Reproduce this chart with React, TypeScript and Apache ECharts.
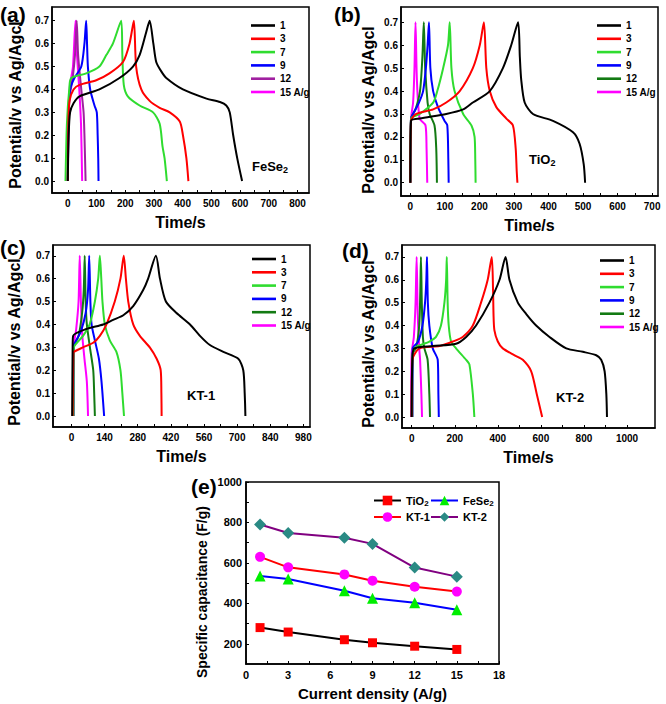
import React, { useEffect, useRef } from "react";
import * as echarts from "echarts";

const FONT = '"Liberation Sans", Arial, sans-serif';

// ---------- GCD data (time s, potential V) ----------
// (a) FeSe2
const feSe2_1 = [[0,0],[3,0.2],[8,0.3],[20,0.34],[41,0.37],[110,0.4],[180,0.45],[227,0.5],[250,0.55],[273,0.65],[285,0.7],[298,0.6],[308,0.52],[325,0.48],[343,0.45],[401,0.4],[483,0.36],[530,0.345],[552,0.33],[564,0.3],[576,0.2],[590,0.1],[607,0]];
const feSe2_3 = [[0,0],[2,0.25],[6,0.35],[20,0.4],[41,0.42],[99,0.44],[145,0.47],[192,0.52],[215,0.6],[230,0.7],[238,0.5],[256,0.4],[285,0.35],[320,0.32],[355,0.3],[390,0.26],[401,0.2],[413,0.1],[420,0]];
const feSe2_7 = [[-8,0],[-3,0.25],[5,0.4],[12,0.45],[64,0.47],[110,0.5],[134,0.55],[157,0.6],[186,0.7],[190,0.55],[195,0.42],[209,0.37],[250,0.33],[297,0.3],[320,0.25],[330,0.15],[337,0.1],[345,0]];
const feSe2_9 = [[0,0],[3,0.3],[8,0.4],[23,0.45],[47,0.5],[58,0.6],[64,0.7],[67,0.6],[70,0.5],[78,0.4],[93,0.33],[101,0.3],[104,0.2],[106,0.1],[107,0]];
const feSe2_12 = [[0,0],[3,0.3],[8,0.38],[17,0.45],[25,0.55],[31,0.7],[36,0.55],[47,0.4],[55,0.3],[58,0.2],[62,0]];
const feSe2_15 = [[0,0],[2,0.3],[8,0.42],[18,0.5],[27,0.7],[32,0.55],[40,0.4],[46,0.25],[50,0]];

// (b) TiO2
const tiO2_1 = [[0,0],[2,0.27],[27,0.28],[104,0.3],[153,0.32],[181,0.35],[230,0.4],[268,0.5],[292,0.6],[312,0.7],[317,0.55],[321,0.45],[331,0.35],[355,0.3],[413,0.27],[471,0.22],[490,0.17],[502,0.08],[506,0]];
const tiO2_3 = [[0,0],[2,0.27],[17,0.3],[66,0.32],[104,0.35],[143,0.4],[181,0.5],[201,0.6],[213,0.7],[220,0.5],[230,0.4],[249,0.33],[278,0.28],[297,0.25],[305,0.15],[308,0.05],[310,0]];
const tiO2_7 = [[0,0],[2,0.28],[27,0.3],[66,0.35],[78,0.4],[95,0.5],[109,0.6],[114,0.7],[119,0.5],[128,0.4],[153,0.3],[177,0.25],[186,0.2],[188,0.1],[189,0]];
const tiO2_9 = [[0,0],[2,0.28],[8,0.3],[25,0.35],[37,0.4],[45,0.5],[50,0.6],[54,0.7],[58,0.5],[66,0.4],[80,0.33],[99,0.27],[107,0.25],[110,0.1],[111,0]];
const tiO2_12 = [[0,0],[2,0.28],[15,0.32],[28,0.4],[35,0.55],[39,0.7],[43,0.5],[50,0.35],[56,0.3],[70,0.25],[75,0.15],[77,0]];
const tiO2_15 = [[0,0],[2,0.28],[8,0.35],[12,0.5],[15,0.7],[19,0.45],[27,0.28],[44,0.25],[47,0.15],[49,0]];

// (c) KT-1
const kt1_1 = [[3,0],[5,0.3],[7,0.35],[63,0.38],[134,0.4],[176,0.42],[219,0.44],[261,0.48],[303,0.55],[324,0.6],[357,0.7],[374,0.6],[399,0.5],[444,0.45],[501,0.4],[543,0.35],[585,0.31],[642,0.28],[705,0.25],[726,0.2],[732,0.1],[735,0]];
const kt1_3 = [[5,0],[8,0.27],[10,0.28],[49,0.3],[92,0.32],[120,0.35],[148,0.4],[183,0.5],[207,0.6],[221,0.7],[230,0.6],[240,0.5],[261,0.4],[289,0.35],[331,0.3],[360,0.25],[377,0.2],[380,0.1],[381,0]];
const kt1_7 = [[8,0],[9,0.28],[10,0.3],[49,0.35],[77,0.4],[99,0.5],[113,0.6],[120,0.7],[126,0.6],[131,0.5],[141,0.4],[162,0.33],[190,0.28],[207,0.2],[215,0.1],[222,0]];
const kt1_9 = [[8,0],[9,0.3],[20,0.33],[40,0.37],[60,0.45],[70,0.55],[75,0.7],[80,0.5],[85,0.4],[99,0.33],[116,0.25],[127,0.15],[138,0]];
const kt1_12 = [[8,0],[9,0.3],[30,0.35],[45,0.45],[52,0.55],[56,0.7],[60,0.5],[65,0.4],[78,0.3],[92,0.2],[96,0.1],[99,0]];
const kt1_15 = [[8,0],[9,0.3],[20,0.38],[30,0.5],[35,0.7],[40,0.5],[46,0.35],[55,0.25],[65,0.15],[70,0]];

// (d) KT-2
const kt2_1 = [[0,0],[3,0.25],[12,0.3],[98,0.31],[206,0.32],[253,0.35],[299,0.4],[361,0.5],[408,0.6],[436,0.7],[454,0.6],[493,0.5],[532,0.45],[578,0.4],[640,0.35],[718,0.3],[795,0.285],[857,0.27],[880,0.25],[896,0.2],[904,0.1],[907,0]];
const kt2_3 = [[0,0],[3,0.25],[36,0.3],[129,0.31],[191,0.33],[237,0.35],[284,0.4],[322,0.5],[353,0.6],[372,0.7],[378,0.55],[380,0.45],[384,0.38],[400,0.33],[423,0.3],[478,0.27],[516,0.25],[555,0.2],[581,0.1],[606,0]];
const kt2_7 = [[0,0],[3,0.25],[12,0.3],[82,0.33],[113,0.35],[136,0.4],[152,0.5],[160,0.6],[163,0.7],[167,0.5],[172,0.4],[183,0.33],[206,0.3],[253,0.25],[268,0.23],[284,0.1],[291,0]];
const kt2_9 = [[3,0],[5,0.3],[30,0.33],[50,0.4],[62,0.5],[68,0.6],[71,0.7],[75,0.5],[82,0.4],[98,0.3],[121,0.25],[124,0.1],[126,0]];
const kt2_12 = [[3,0],[5,0.28],[20,0.3],[35,0.4],[40,0.55],[43,0.7],[47,0.5],[52,0.35],[59,0.3],[74,0.25],[82,0.1],[85,0]];
const kt2_15 = [[-3,0],[0,0.28],[10,0.35],[18,0.5],[23,0.7],[28,0.45],[35,0.3],[39,0.25],[45,0.1],[48,0]];

const gcdLabels = ["1", "3", "7", "9", "12", "15 A/g"];

// x tick labels for each GCD panel
const xLabelsA = [0, 100, 200, 300, 400, 500, 600, 700, 800];
const xLabelsB = [0, 100, 200, 300, 400, 500, 600, 700];
const xLabelsC = [0, 140, 280, 420, 560, 700, 840, 980];
const xLabelsD = [0, 200, 400, 600, 800, 1000];
const yLabelsGcd = [0, 0.1, 0.2, 0.3, 0.4, 0.5, 0.6, 0.7];

// ---------- (e) specific capacitance ----------
const currentDensity = [1, 3, 7, 9, 12, 15];
const capTiO2 = [280, 258, 220, 205, 188, 172];
const capFeSe2 = [535, 520, 462, 425, 403, 368];
const capKT1 = [630, 578, 543, 512, 482, 458];
const capKT2 = [790, 748, 724, 694, 577, 532];
const xLabelsE = [0, 3, 6, 9, 12, 15, 18];
const yLabelsE = [200, 400, 600, 800, 1000];

const panelColorsA = ["#000000", "#ff0000", "#2fdc2f", "#0000ff", "#a020a0", "#ff00ff"];
const panelColorsB = ["#000000", "#ff0000", "#2fdc2f", "#0000ff", "#137a13", "#ff00ff"];

function halfSteps(vals: number[]) {
  const out: number[] = [];
  for (let i = 0; i < vals.length; i++) {
    out.push(vals[i]);
    if (i < vals.length - 1) out.push((vals[i] + vals[i + 1]) / 2);
  }
  return out;
}

export default function App() {
  const ref = useRef<HTMLDivElement>(null);
  useEffect(() => {
    if (!ref.current) return;
    const chart = echarts.init(ref.current, null, { renderer: "svg" });

    const panels = [
      { key: "a", curves: [feSe2_1, feSe2_3, feSe2_7, feSe2_9, feSe2_12, feSe2_15], colors: panelColorsA,
        grid: { left: 52, top: 7, width: 257, height: 186 }, x: [-55, 840], xl: xLabelsA, y: [-0.052, 0.76], legend: { left: 246, top: 15.5 } },
      { key: "b", curves: [tiO2_1, tiO2_3, tiO2_7, tiO2_9, tiO2_12, tiO2_15], colors: panelColorsB,
        grid: { left: 401, top: 7, width: 257, height: 189 }, x: [-27, 717], xl: xLabelsB, y: [-0.058, 0.767], legend: { left: 592, top: 15.5 } },
      { key: "c", curves: [kt1_1, kt1_3, kt1_7, kt1_9, kt1_12, kt1_15], colors: panelColorsB,
        grid: { left: 53, top: 245, width: 257, height: 182 }, x: [-78, 1008], xl: xLabelsC, y: [-0.048, 0.747], legend: { left: 247, top: 249 } },
      { key: "d", curves: [kt2_1, kt2_3, kt2_7, kt2_9, kt2_12, kt2_15], colors: panelColorsB,
        grid: { left: 402, top: 245, width: 253, height: 183 }, x: [-45, 1130], xl: xLabelsD, y: [-0.048, 0.752], legend: { left: 595, top: 250.5 } },
    ];

    const grids: any[] = [];
    const xAxes: any[] = [];
    const yAxes: any[] = [];
    const series: any[] = [];
    const legends: any[] = [];

    const axisCommon = {
      axisLine: { show: true, onZero: false, lineStyle: { color: "#000", width: 1.5 } },
      splitLine: { show: false },
    };

    panels.forEach((p, i) => {
      grids.push({ ...p.grid, show: true, borderColor: "#000", borderWidth: 1.5, backgroundColor: "transparent" });
      xAxes.push({
        type: "value", gridIndex: i, min: p.x[0], max: p.x[1], ...axisCommon,
        name: "Time/s", nameLocation: "middle", nameGap: 21,
        nameTextStyle: { fontFamily: FONT, fontWeight: "bold", fontSize: 16, color: "#000" },
        axisTick: { show: true, inside: true, length: 3, customValues: halfSteps(p.xl), lineStyle: { color: "#000", width: 1 } },
        axisLabel: { show: true, customValues: p.xl, margin: 5, fontFamily: FONT, fontWeight: "bold", fontSize: 10, color: "#000", formatter: (v: number) => String(Math.round(v)) },
      });
      yAxes.push({
        type: "value", gridIndex: i, min: p.y[0], max: p.y[1], ...axisCommon,
        axisTick: { show: true, inside: true, length: 3, customValues: yLabelsGcd, lineStyle: { color: "#000", width: 1 } },
        axisLabel: { show: true, customValues: yLabelsGcd, margin: 3, fontFamily: FONT, fontWeight: "bold", fontSize: 10, color: "#000", formatter: (v: number) => v.toFixed(1) },
      });
      const names: string[] = [];
      p.curves.forEach((c, j) => {
        const name = p.key + ":" + gcdLabels[j];
        names.push(name);
        series.push({
          type: "line", name, xAxisIndex: i, yAxisIndex: i, data: c, symbol: "none", smooth: 0.25,
          lineStyle: { width: 2, color: p.colors[j] }, itemStyle: { color: p.colors[j] }, z: 10 - j,
        });
      });
      legends.push({
        orient: "vertical", left: p.legend.left, top: p.legend.top, data: names,
        icon: "rect", itemWidth: 24, itemHeight: 2.6, itemGap: 3.3, selectedMode: false,
        formatter: (n: string) => n.split(":")[1],
        textStyle: { fontFamily: FONT, fontWeight: "bold", fontSize: 10, lineHeight: 10, color: "#000" },
      });
    });

    // panel (e)
    const ie = 4;
    grids.push({ left: 246, top: 482, width: 253, height: 182, show: true, borderColor: "#000", borderWidth: 1.5 });
    xAxes.push({
      type: "value", gridIndex: ie, min: 0, max: 18, ...axisCommon,
      name: "Current density (A/g)", nameLocation: "middle", nameGap: 22,
      nameTextStyle: { fontFamily: FONT, fontWeight: "bold", fontSize: 15, color: "#000" },
      axisTick: { show: true, inside: true, length: 3, customValues: halfSteps(xLabelsE), lineStyle: { color: "#000" } },
      axisLabel: { show: true, customValues: xLabelsE, margin: 5, fontFamily: FONT, fontWeight: "bold", fontSize: 11, color: "#000", formatter: (v: number) => String(Math.round(v)) },
    });
    yAxes.push({
      type: "value", gridIndex: ie, min: 100, max: 1000, ...axisCommon,
      axisTick: { show: true, inside: true, length: 3, customValues: halfSteps(yLabelsE), lineStyle: { color: "#000" } },
      axisLabel: { show: true, customValues: yLabelsE, margin: 4, fontFamily: FONT, fontWeight: "bold", fontSize: 11, color: "#000", formatter: (v: number) => String(Math.round(v)) },
    });
    const eSeries = [
      { name: "TiO2", vals: capTiO2, line: "#000000", mark: "#ff0000", symbol: "rect", size: 9 },
      { name: "FeSe2", vals: capFeSe2, line: "#0000ff", mark: "#00ee00", symbol: "triangle", size: 11 },
      { name: "KT-1", vals: capKT1, line: "#ff0000", mark: "#ff00ff", symbol: "circle", size: 10 },
      { name: "KT-2", vals: capKT2, line: "#800080", mark: "#2a8a84", symbol: "diamond", size: 12 },
    ];
    eSeries.forEach((s) => {
      series.push({
        type: "line", name: s.name, xAxisIndex: ie, yAxisIndex: ie,
        data: currentDensity.map((x, k) => [x, s.vals[k]]),
        symbol: s.symbol, symbolSize: s.size, showSymbol: true,
        lineStyle: { width: 2, color: s.line }, itemStyle: { color: s.mark, borderWidth: 0 },
      });
    });
    const eRich = {
      m: { fontFamily: FONT, fontWeight: "bold", fontSize: 11, color: "#000" },
      s: { fontFamily: FONT, fontWeight: "bold", fontSize: 8, color: "#000", padding: [6, 0, 0, 0] },
    };
    const eFmt = (n: string) => (n === "TiO2" ? "{m|TiO}{s|2}" : n === "FeSe2" ? "{m|FeSe}{s|2}" : "{m|" + n + "}");
    legends.push({
      orient: "vertical", left: 368, top: 490, data: ["TiO2", "KT-1"], itemWidth: 27, itemHeight: 12, itemGap: 4,
      selectedMode: false, formatter: eFmt, textStyle: { fontFamily: FONT, fontWeight: "bold", fontSize: 11, color: "#000", rich: eRich },
    });
    legends.push({
      orient: "vertical", left: 425, top: 490, data: ["FeSe2", "KT-2"], itemWidth: 27, itemHeight: 12, itemGap: 4,
      selectedMode: false, formatter: eFmt, textStyle: { fontFamily: FONT, fontWeight: "bold", fontSize: 11, color: "#000", rich: eRich },
    });

    const yName = (x: number, y: number, text: string, size: number) => ({
      type: "text", x, y, rotation: Math.PI / 2,
      style: { text, fontFamily: FONT, fontWeight: "bold", fontSize: size, fill: "#000", align: "center", verticalAlign: "middle" },
    });
    const panelLabel = (x: number, y: number, text: string) => ({
      type: "text", x, y,
      style: { text, fontFamily: FONT, fontWeight: "bold", fontSize: 21, fill: "#000", align: "left", verticalAlign: "middle" },
    });
    const sampleRich = {
      m: { fontFamily: FONT, fontWeight: "bold", fontSize: 13, fill: "#000" },
      s: { fontFamily: FONT, fontWeight: "bold", fontSize: 9, fill: "#000", padding: [7, 0, 0, 0] },
    };
    const sampleLabel = (x: number, y: number, text: string) => ({
      type: "text", x, y,
      style: { text, rich: sampleRich, fontFamily: FONT, fontWeight: "bold", fontSize: 13, fill: "#000", align: "left", verticalAlign: "middle" },
    });

    const graphic = [
      panelLabel(0, 14, "(a)"),
      panelLabel(334, 14, "(b)"),
      panelLabel(0, 247, "(c)"),
      panelLabel(342, 250, "(d)"),
      panelLabel(191, 486, "(e)"),
      yName(15, 105, "Potential/v vs Ag/Agcl", 16),
      yName(368, 110, "Potential/v vs Ag/Agcl", 16),
      yName(14, 342, "Potential/v vs Ag/Agcl", 16),
      yName(368, 344, "Potential/v vs Ag/Agcl", 16),
      yName(202, 592, "Specific capacitance (F/g)", 14),
      sampleLabel(252, 166, "{m|FeSe}{s|2}"),
      sampleLabel(529, 159, "{m|TiO}{s|2}"),
      sampleLabel(187, 395, "{m|KT-1}"),
      sampleLabel(556, 397, "{m|KT-2}"),
    ];

    chart.setOption({
      animation: false,
      backgroundColor: "#ffffff",
      grid: grids,
      xAxis: xAxes,
      yAxis: yAxes,
      legend: legends,
      series,
      graphic,
    });
    return () => chart.dispose();
  }, []);

  return <div ref={ref} style={{ position: "absolute", left: 0, top: 0, width: 666, height: 704 }} />;
}
